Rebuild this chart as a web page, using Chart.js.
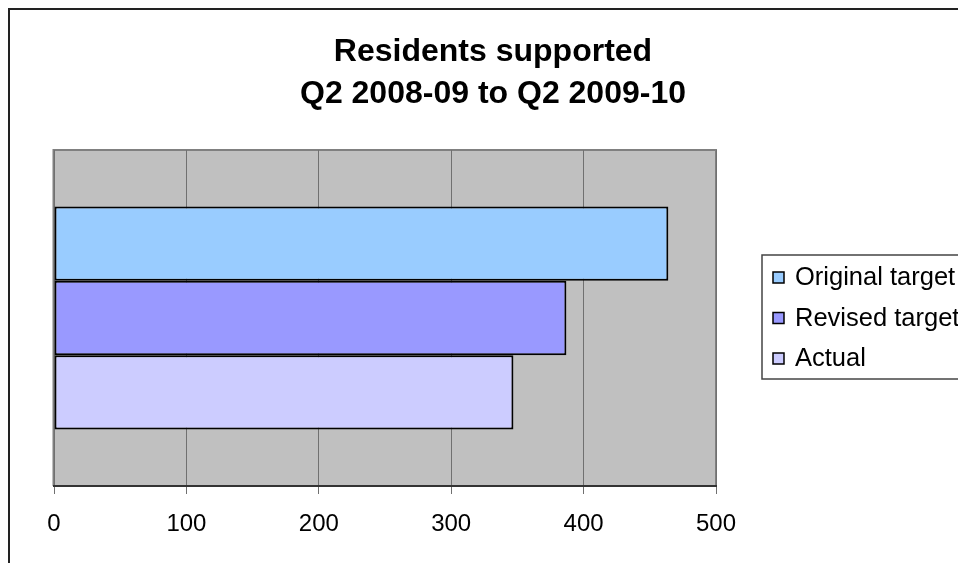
<!DOCTYPE html>
<html>
<head>
<meta charset="utf-8">
<script src="https://cdn.jsdelivr.net/npm/chart.js@4"></script>
<style>
  html, body { margin: 0; padding: 0; background: #ffffff; }
  #wrap { width: 958px; height: 563px; }
</style>
</head>
<body>
<div id="wrap"><canvas id="c" width="958" height="563"></canvas></div>
<script>
// Residents supported, Q2 2008-09 to Q2 2009-10
const categories = [''];
const seriesNames = ['Original target', 'Revised target', 'Actual'];
const originalTarget = [464];
const revisedTarget = [387];
const actual = [347];
const xTicks = [0, 100, 200, 300, 400, 500];
const titleLines = ['Residents supported', 'Q2 2008-09 to Q2 2009-10'];

const seriesColors = ['#99CCFF', '#9999FF', '#CCCCFF'];
const FONT = '"Liberation Sans", Arial, sans-serif';

// Frame, plot background, title and boxed legend
const decor = {
  id: 'decor',
  beforeDraw(chart) {
    const ctx = chart.ctx;
    const a = chart.chartArea;
    ctx.save();
    ctx.fillStyle = '#ffffff';
    ctx.fillRect(0, 0, chart.width, chart.height);
    // outer chart frame
    ctx.strokeStyle = '#222222';
    ctx.lineWidth = 2;
    ctx.strokeRect(9, 9, chart.width + 40, chart.height + 40);
    // plot area
    ctx.fillStyle = '#C0C0C0';
    ctx.fillRect(a.left, a.top, a.right - a.left, a.bottom - a.top);
    ctx.strokeStyle = '#808080';
    ctx.lineWidth = 2;
    ctx.beginPath();
    ctx.moveTo(a.left - 0.5, a.bottom);
    ctx.lineTo(a.left - 0.5, a.top);
    ctx.lineTo(a.right, a.top);
    ctx.lineTo(a.right, a.bottom);
    ctx.stroke();
    // title
    ctx.fillStyle = '#000000';
    ctx.font = 'bold 32px ' + FONT;
    ctx.textAlign = 'center';
    ctx.textBaseline = 'alphabetic';
    const cx = 493;
    ctx.fillText(titleLines[0], cx, 61);
    ctx.fillText(titleLines[1], cx, 103);
    ctx.restore();
  },
  afterDraw(chart) {
    const ctx = chart.ctx;
    ctx.save();
    // legend box
    ctx.strokeStyle = '#444444';
    ctx.lineWidth = 1.5;
    ctx.strokeRect(762, 255, 260, 124);
    ctx.font = '25.5px ' + FONT;
    ctx.textAlign = 'left';
    ctx.textBaseline = 'middle';
    chart.data.datasets.forEach((ds, i) => {
      const cy = 277 + i * 40.5;
      ctx.fillStyle = ds.backgroundColor;
      ctx.fillRect(773, cy - 5, 11, 11);
      ctx.strokeStyle = '#000000';
      ctx.lineWidth = 1.5;
      ctx.strokeRect(773, cy - 5, 11, 11);
      ctx.fillStyle = '#000000';
      ctx.fillText(ds.label, 795, cy + 1);
    });
    ctx.restore();
  }
};

new Chart(document.getElementById('c'), {
  type: 'bar',
  data: {
    labels: categories,
    datasets: [
      { label: seriesNames[0], data: originalTarget, backgroundColor: seriesColors[0] },
      { label: seriesNames[1], data: revisedTarget, backgroundColor: seriesColors[1] },
      { label: seriesNames[2], data: actual, backgroundColor: seriesColors[2] }
    ]
  },
  options: {
    indexAxis: 'y',
    responsive: false,
    animation: false,
    devicePixelRatio: 1,
    layout: { padding: { left: 54, right: 242, top: 150, bottom: 0 } },
    datasets: {
      bar: {
        categoryPercentage: 0.664,
        barPercentage: 1,
        borderColor: '#000000',
        borderWidth: 2,
        borderSkipped: false
      }
    },
    plugins: {
      legend: { display: false },
      title: { display: false },
      tooltip: { enabled: false }
    },
    scales: {
      x: {
        type: 'linear',
        min: xTicks[0],
        max: xTicks[xTicks.length - 1],
        afterBuildTicks(scale) {
          scale.ticks = xTicks.map(v => ({ value: v }));
        },
        afterFit(scale) { scale.height = 77; },
        ticks: {
          color: '#000000',
          font: { family: FONT, size: 24 },
          padding: 16
        },
        grid: {
          color: '#707070',
          lineWidth: 1,
          tickLength: 8,
          drawOnChartArea: true
        },
        border: { display: true, color: '#333333', width: 2 }
      },
      y: {
        type: 'category',
        display: false
      }
    }
  },
  plugins: [decor]
});
</script>
</body>
</html>
